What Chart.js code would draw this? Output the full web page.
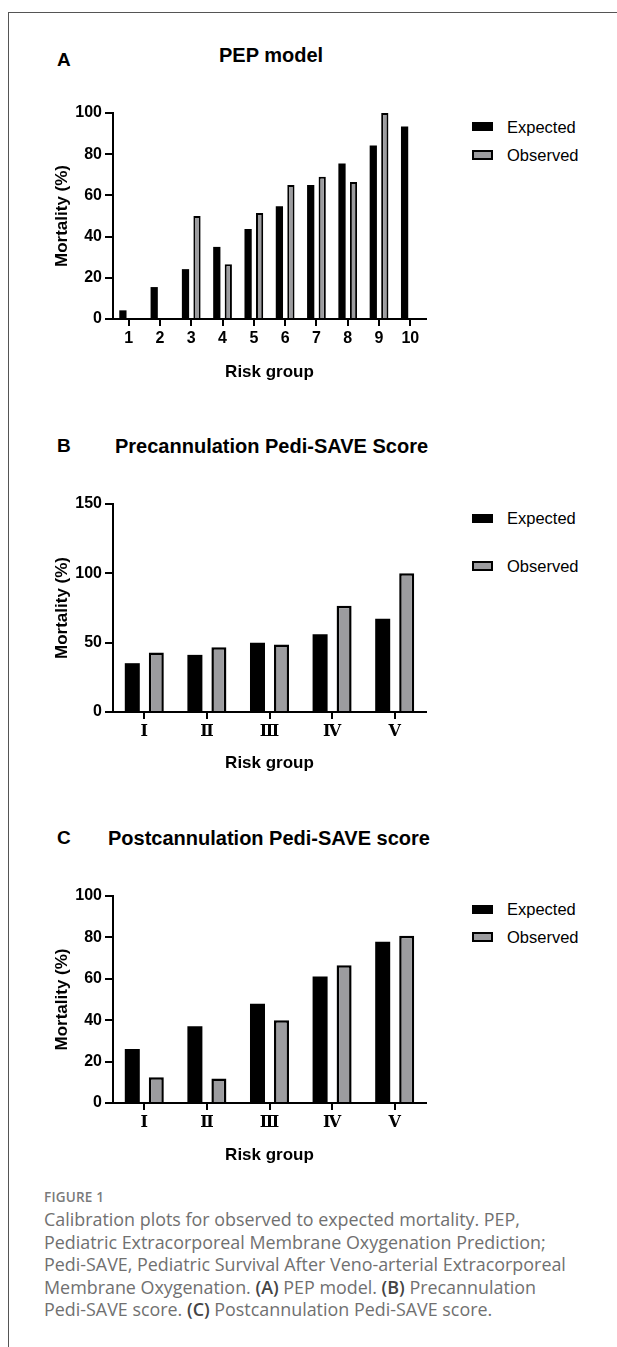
<!DOCTYPE html>
<html><head><meta charset="utf-8">
<script src="https://cdn.jsdelivr.net/npm/chart.js@4/dist/chart.umd.min.js"></script>
<style>
html,body{margin:0;padding:0;background:#fff;}
body{width:617px;height:1347px;position:relative;overflow:hidden;font-family:'Liberation Sans',Arial,sans-serif;}
.frame{position:absolute;left:8px;top:12px;width:700px;height:1400px;border-left:1px solid #555;border-top:1px solid #555;}
.abs{position:absolute;white-space:nowrap;line-height:24px;height:24px;color:#000;}
.letter{font-weight:bold;font-size:19px;}
.title{font-weight:bold;font-size:20px;}
.leg{font-size:16.5px;}
.sw{position:absolute;width:21px;height:10px;box-sizing:border-box;}
.sw.exp{background:#000;height:9px;}
.sw.obs{background:#9c9c9f;border:2px solid #000;}
canvas{position:absolute;left:0;}
.fig{position:absolute;left:44px;top:1187px;line-height:20px;font-family:'Open Sans',Lato,sans-serif;font-weight:600;font-size:13.5px;letter-spacing:0.2px;color:#7a7a7a;}
.cap{position:absolute;left:44px;top:1208px;line-height:22.5px;font-family:'Open Sans',Lato,sans-serif;font-size:17.9px;color:#707070;white-space:nowrap;}
.cap b{color:#444;font-weight:600;}
</style>
</head>
<body>
<div class="frame"></div>

<div class="abs letter" style="left:57px;top:48px;">A</div>
<div class="abs title" style="left:219px;top:43px;">PEP model</div>
<canvas id="chartA" width="440" height="300" style="top:90px;"></canvas>
<div class="sw exp" style="left:472px;top:122px;"></div>
<div class="abs leg" style="left:507px;top:115px;">Expected</div>
<div class="sw obs" style="left:472px;top:150px;"></div>
<div class="abs leg" style="left:507px;top:143px;">Observed</div>

<div class="abs letter" style="left:57px;top:434px;">B</div>
<div class="abs title" style="left:115px;top:434px;">Precannulation Pedi-SAVE Score</div>
<canvas id="chartB" width="440" height="300" style="top:480px;"></canvas>
<div class="sw exp" style="left:472px;top:514px;"></div>
<div class="abs leg" style="left:507px;top:506px;">Expected</div>
<div class="sw obs" style="left:472px;top:561px;"></div>
<div class="abs leg" style="left:507px;top:554px;">Observed</div>

<div class="abs letter" style="left:57px;top:826px;">C</div>
<div class="abs title" style="left:108px;top:826px;">Postcannulation Pedi-SAVE score</div>
<canvas id="chartC" width="440" height="300" style="top:870px;"></canvas>
<div class="sw exp" style="left:472px;top:905px;"></div>
<div class="abs leg" style="left:507px;top:897px;">Expected</div>
<div class="sw obs" style="left:472px;top:932px;"></div>
<div class="abs leg" style="left:507px;top:925px;">Observed</div>

<div class="fig">FIGURE 1</div>
<div class="cap">Calibration plots for observed to expected mortality. PEP,<br>Pediatric Extracorporeal Membrane Oxygenation Prediction;<br>Pedi-SAVE, Pediatric Survival After Veno-arterial Extracorporeal<br>Membrane Oxygenation. <b>(A)</b> PEP model. <b>(B)</b> Precannulation<br>Pedi-SAVE score. <b>(C)</b> Postcannulation Pedi-SAVE score.</div>

<script>
// ---- Data ----
const seriesNames = ['Expected', 'Observed'];
const pepCategories = ['1', '2', '3', '4', '5', '6', '7', '8', '9', '10'];
const pepExpected = [4.2, 15.5, 24.2, 35, 43.7, 54.7, 65, 75.5, 84.2, 93.5];
const pepObserved = [0, 0, 50, 26.6, 51.5, 65, 69, 66.5, 100, 0];
const pepTicks = [0, 20, 40, 60, 80, 100];

const riskCategories = ['Ⅰ', 'Ⅱ', 'Ⅲ', 'Ⅳ', 'Ⅴ'];
const preExpected = [35.2, 41.2, 50, 56, 67.2];
const preObserved = [42.9, 46.7, 48.6, 76.6, 100];
const preTicks = [0, 50, 100, 150];

const postExpected = [26.1, 37.1, 48, 61.1, 77.9];
const postObserved = [12.4, 11.8, 40, 66.6, 80.8];
const postTicks = [0, 20, 40, 60, 80, 100];

const yTitle = 'Mortality (%)';
const xTitle = 'Risk group';

Chart.defaults.font.family = "'Liberation Sans', Arial, sans-serif";
Chart.defaults.color = '#000';

function makeChart(id, labels, expected, observed, ticks, opts) {
  const ctx = document.getElementById(id).getContext('2d');
  return new Chart(ctx, {
    type: 'bar',
    data: {
      labels: labels,
      datasets: [
        { label: seriesNames[0], data: expected, backgroundColor: '#000', borderWidth: 0,
          categoryPercentage: opts.cp, barPercentage: opts.bp },
        { label: seriesNames[1], data: observed, backgroundColor: '#9c9c9f', borderColor: '#000',
          borderWidth: opts.bw, borderSkipped: 'start',
          categoryPercentage: opts.cp, barPercentage: opts.bp }
      ]
    },
    options: {
      responsive: false,
      animation: false,
      devicePixelRatio: 1,
      layout: { padding: { left: 48, right: 14, top: opts.padTop, bottom: opts.padBottom } },
      plugins: { legend: { display: false }, tooltip: { enabled: false }, title: { display: false } },
      scales: {
        x: {
          type: 'category',
          offset: true,
          grid: { offset: false, drawOnChartArea: false, drawTicks: true, tickLength: 7, tickWidth: 2, tickColor: '#000', color: '#000', lineWidth: 2 },
          border: { display: true, color: '#000', width: 2 },
          ticks: { color: '#000', font: opts.xFont, padding: 3, autoSkip: false, maxRotation: 0 },
          title: { display: true, text: xTitle, color: '#000', font: { size: 17, weight: 'bold' }, padding: { top: 0, bottom: 0 } },
          afterFit: s => { s.height = opts.xHeight; }
        },
        y: {
          type: 'linear',
          min: 0,
          max: ticks[ticks.length - 1],
          afterBuildTicks: s => { s.ticks = ticks.map(v => ({ value: v })); },
          grid: { drawOnChartArea: false, drawTicks: true, tickLength: 8, tickWidth: 2, tickColor: '#000', color: '#000', lineWidth: 2 },
          border: { display: true, color: '#000', width: 2 },
          ticks: { color: '#000', font: { size: 16, weight: 'bold' }, padding: 3 },
          title: { display: true, text: yTitle, color: '#000', font: { size: 17, weight: 'bold' }, padding: { top: 4, bottom: 0 } },
          afterFit: s => { s.width = 65; }
        }
      }
    }
  });
}

const romanFont = { size: 16, weight: 'bold', family: "'DejaVu Serif', 'Liberation Serif', serif" };
makeChart('chartA', pepCategories, pepExpected, pepObserved, pepTicks,
  { cp: 0.735, bp: 0.63, bw: 2, padTop: 23, padBottom: 7.8, xHeight: 63.2, xFont: { size: 16, weight: 'bold' } });
makeChart('chartB', riskCategories, preExpected, preObserved, preTicks,
  { cp: 0.767, bp: 0.625, bw: 2.5, padTop: 24, padBottom: 6.8, xHeight: 61.2, xFont: romanFont });
makeChart('chartC', riskCategories, postExpected, postObserved, postTicks,
  { cp: 0.767, bp: 0.625, bw: 2.5, padTop: 26, padBottom: 4.8, xHeight: 62.2, xFont: romanFont });
</script>
</body></html>
